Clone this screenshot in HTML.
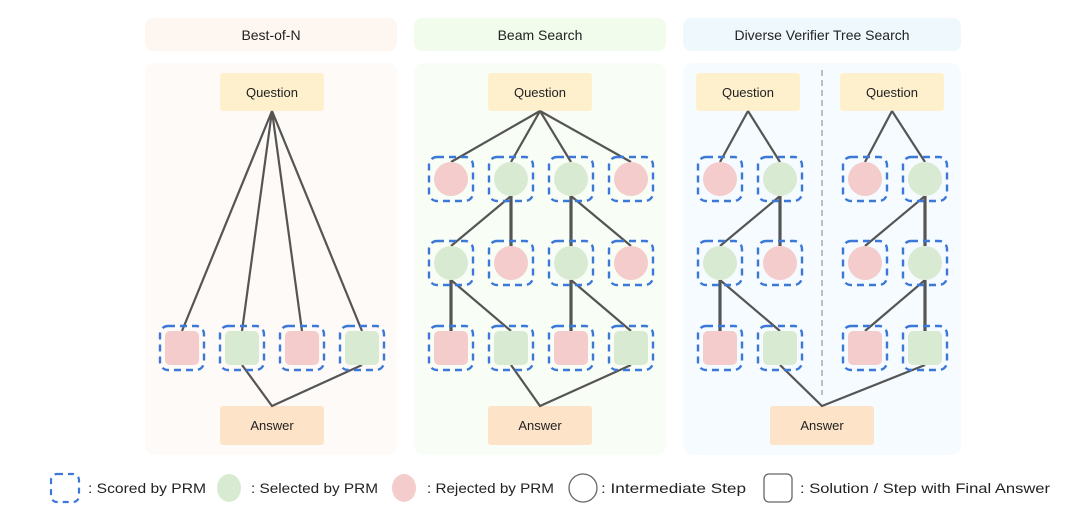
<!DOCTYPE html>
<html><head><meta charset="utf-8"><style>
html,body{margin:0;padding:0;background:#fff;}
svg{display:block;font-family:"Comic Sans MS","Liberation Sans",sans-serif;}
</style></head><body>
<svg width="1080" height="513" viewBox="0 0 1080 513" xmlns="http://www.w3.org/2000/svg">
<defs>
<g id="db"><rect x="-22" y="-22" width="44" height="44" rx="8" fill="none" stroke="#3c78d8" stroke-width="2.4" stroke-dasharray="7,5"/></g>
</defs>
<rect x="145" y="18" width="252" height="33" rx="8" fill="#fdf6f1"/>
<rect x="414" y="18" width="252" height="33" rx="8" fill="#f1fcec"/>
<rect x="683" y="18" width="278" height="33" rx="8" fill="#eff8fd"/>
<text x="271" y="40" font-size="14" text-anchor="middle" fill="#222">Best-of-N</text>
<text x="540" y="40" font-size="14" text-anchor="middle" fill="#222">Beam Search</text>
<text x="822" y="40" font-size="14" text-anchor="middle" fill="#222">Diverse Verifier Tree Search</text>
<rect x="145" y="63" width="252" height="392" rx="10" fill="#fefaf7"/>
<rect x="414" y="63" width="252" height="392" rx="10" fill="#f8fdf5"/>
<rect x="683" y="63" width="278" height="392" rx="10" fill="#f5fbfe"/>
<line x1="822" y1="70" x2="822" y2="395" stroke="#aaa" stroke-width="1.5" stroke-dasharray="6,4"/>
<g fill="#fff0cd">
<rect x="220" y="73" width="104" height="38" rx="3"/>
<rect x="488" y="73" width="104" height="38" rx="3"/>
<rect x="696" y="73" width="104" height="38" rx="3"/>
<rect x="840" y="73" width="104" height="38" rx="3"/>
</g>
<g fill="#fde4c9">
<rect x="220" y="406" width="104" height="39" rx="3"/>
<rect x="488" y="406" width="104" height="39" rx="3"/>
<rect x="770" y="406" width="104" height="39" rx="3"/>
</g>
<g font-size="13" text-anchor="middle" fill="#222">
<text x="272" y="97">Question</text><text x="540" y="97">Question</text>
<text x="748" y="97">Question</text><text x="892" y="97">Question</text>
<text x="272" y="430">Answer</text><text x="540" y="430">Answer</text><text x="822" y="430">Answer</text>
</g>
<g stroke="#555" stroke-width="2.2" fill="none">
<path d="M272 111L182 331M272 111L242 331M272 111L302 331M272 111L362 331M242 365L272 406L362 365"/>
<path d="M540 111L451 162M540 111L511 162M540 111L571 162M540 111L631 162"/>
<path d="M511 196L451 246M571 196L631 246"/>
<path d="M451 280L511 331M571 280L631 331"/>
<path d="M511 365L540 406L631 365"/>
<path d="M748 111L720 162M748 111L780 162M780 196L720 246M720 280L780 331"/>
<path d="M892 111L865 162M892 111L925 162M925 196L865 246M925 280L865 331"/>
<path d="M780 365L822 406L925 365"/>
</g>
<g stroke="#555" stroke-width="3.2" fill="none">
<path d="M511 196L511 246M571 196L571 246M451 280L451 331M571 280L571 331"/>
<path d="M780 196L780 246M720 280L720 331M925 196L925 246M925 280L925 331"/>
</g>
<g>
<rect x="165" y="331" width="34" height="34" rx="5" fill="#f4cccc"/>
<rect x="225" y="331" width="34" height="34" rx="5" fill="#d9ead3"/>
<rect x="285" y="331" width="34" height="34" rx="5" fill="#f4cccc"/>
<rect x="345" y="331" width="34" height="34" rx="5" fill="#d9ead3"/>
<use href="#db" x="182" y="348"/><use href="#db" x="242" y="348"/><use href="#db" x="302" y="348"/><use href="#db" x="362" y="348"/>
<circle cx="451" cy="179" r="17" fill="#f4cccc"/><circle cx="511" cy="179" r="17" fill="#d9ead3"/>
<circle cx="571" cy="179" r="17" fill="#d9ead3"/><circle cx="631" cy="179" r="17" fill="#f4cccc"/>
<circle cx="451" cy="263" r="17" fill="#d9ead3"/><circle cx="511" cy="263" r="17" fill="#f4cccc"/>
<circle cx="571" cy="263" r="17" fill="#d9ead3"/><circle cx="631" cy="263" r="17" fill="#f4cccc"/>
<rect x="434" y="331" width="34" height="34" rx="5" fill="#f4cccc"/>
<rect x="494" y="331" width="34" height="34" rx="5" fill="#d9ead3"/>
<rect x="554" y="331" width="34" height="34" rx="5" fill="#f4cccc"/>
<rect x="614" y="331" width="34" height="34" rx="5" fill="#d9ead3"/>
<use href="#db" x="451" y="179"/><use href="#db" x="511" y="179"/><use href="#db" x="571" y="179"/><use href="#db" x="631" y="179"/>
<use href="#db" x="451" y="263"/><use href="#db" x="511" y="263"/><use href="#db" x="571" y="263"/><use href="#db" x="631" y="263"/>
<use href="#db" x="451" y="348"/><use href="#db" x="511" y="348"/><use href="#db" x="571" y="348"/><use href="#db" x="631" y="348"/>
<circle cx="720" cy="179" r="17" fill="#f4cccc"/><circle cx="780" cy="179" r="17" fill="#d9ead3"/>
<circle cx="865" cy="179" r="17" fill="#f4cccc"/><circle cx="925" cy="179" r="17" fill="#d9ead3"/>
<circle cx="720" cy="263" r="17" fill="#d9ead3"/><circle cx="780" cy="263" r="17" fill="#f4cccc"/>
<circle cx="865" cy="263" r="17" fill="#f4cccc"/><circle cx="925" cy="263" r="17" fill="#d9ead3"/>
<rect x="703" y="331" width="34" height="34" rx="5" fill="#f4cccc"/>
<rect x="763" y="331" width="34" height="34" rx="5" fill="#d9ead3"/>
<rect x="848" y="331" width="34" height="34" rx="5" fill="#f4cccc"/>
<rect x="908" y="331" width="34" height="34" rx="5" fill="#d9ead3"/>
<use href="#db" x="720" y="179"/><use href="#db" x="780" y="179"/><use href="#db" x="865" y="179"/><use href="#db" x="925" y="179"/>
<use href="#db" x="720" y="263"/><use href="#db" x="780" y="263"/><use href="#db" x="865" y="263"/><use href="#db" x="925" y="263"/>
<use href="#db" x="720" y="348"/><use href="#db" x="780" y="348"/><use href="#db" x="865" y="348"/><use href="#db" x="925" y="348"/>
</g>
<rect x="51" y="474" width="28" height="28" rx="6" fill="none" stroke="#3c78d8" stroke-width="2.2" stroke-dasharray="6,5"/>
<ellipse cx="229" cy="488" rx="12" ry="14" fill="#d9ead3"/>
<ellipse cx="404" cy="488" rx="12" ry="14" fill="#f4cccc"/>
<circle cx="583" cy="488" r="14" fill="none" stroke="#666" stroke-width="1.3"/>
<rect x="764" y="474" width="28" height="28" rx="5" fill="none" stroke="#666" stroke-width="1.3"/>
<g font-size="14" fill="#222">
<text x="88" y="493" textLength="118" lengthAdjust="spacingAndGlyphs">: Scored by PRM</text>
<text x="251" y="493" textLength="127" lengthAdjust="spacingAndGlyphs">: Selected by PRM</text>
<text x="427" y="493" textLength="127" lengthAdjust="spacingAndGlyphs">: Rejected by PRM</text>
<text x="601" y="493" textLength="145" lengthAdjust="spacingAndGlyphs">: Intermediate Step</text>
<text x="800" y="493" textLength="250" lengthAdjust="spacingAndGlyphs">: Solution / Step with Final Answer</text>
</g>
</svg>
</body></html>
